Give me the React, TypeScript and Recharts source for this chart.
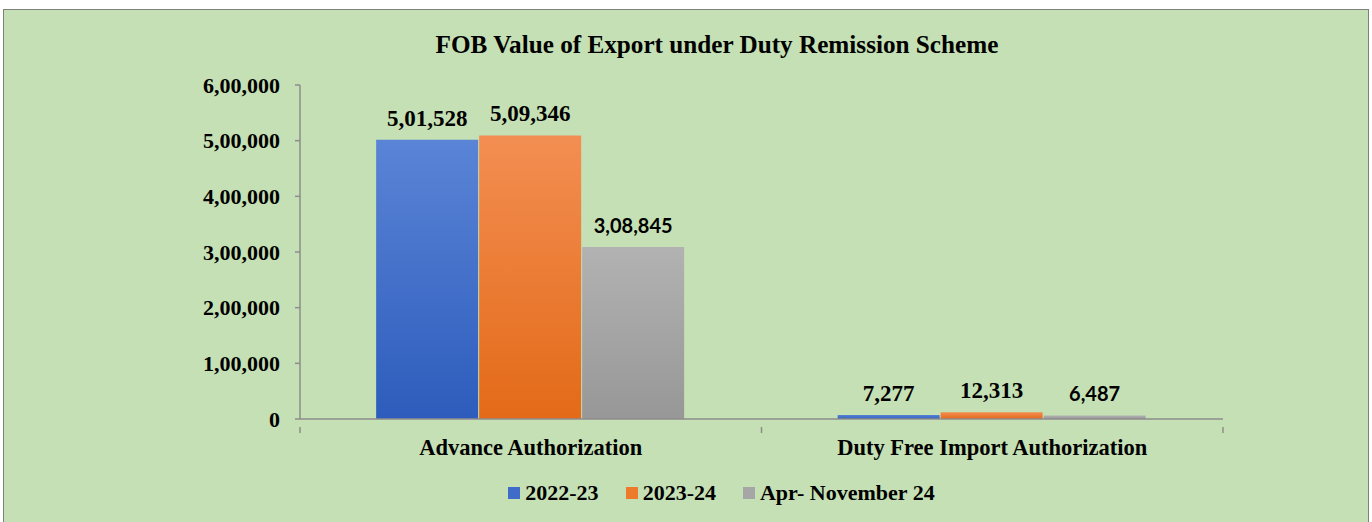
import React from 'react';
import { BarChart, Bar, XAxis, YAxis, LabelList, Legend } from 'recharts';

const categories = ['Advance Authorization', 'Duty Free Import Authorization'];
const series2022_23 = [501528, 7277];
const series2023_24 = [509346, 12313];
const seriesAprNov24 = [308845, 6487];
const seriesNames = ['2022-23', '2023-24', 'Apr- November 24'];
const yTicks = [0, 100000, 200000, 300000, 400000, 500000, 600000];

const data = categories.map((c, i) => ({
  category: c,
  a: series2022_23[i],
  b: series2023_24[i],
  c: seriesAprNov24[i],
}));

const SERIF = '"Liberation Serif", "Times New Roman", serif';
const SANS = 'Lato, "Open Sans", sans-serif';

function inr(v: any): string {
  const s = String(Math.round(Number(v)));
  if (s.length <= 3) return s;
  const last3 = s.slice(-3);
  let rest = s.slice(0, -3);
  const parts: string[] = [];
  while (rest.length > 2) {
    parts.unshift(rest.slice(-2));
    rest = rest.slice(0, -2);
  }
  if (rest) parts.unshift(rest);
  return parts.join(',') + ',' + last3;
}

const CatTick = (props: any) => {
  const { x, y, payload, index, visibleTicksCount } = props;
  const half = payload && payload.offset ? payload.offset : 0;
  const isLast = index === (visibleTicksCount || 2) - 1;
  return (
    <g>
      <line x1={x - half} x2={x - half} y1={y} y2={y + 6} stroke="#8c8c8c" strokeWidth={1.5} />
      {isLast && <line x1={x + half} x2={x + half} y1={y} y2={y + 6} stroke="#8c8c8c" strokeWidth={1.5} />}
      <text x={x} y={y + 28} textAnchor="middle" fontFamily={SERIF} fontWeight="bold" fontSize={22.5} fill="#000">
        {payload.value}
      </text>
    </g>
  );
};

const colors = ['#3f6cc9', '#ee7a2c', '#a6a6a6'];

const LegendContent = () => (
  <div style={{ height: 30, display: 'flex', alignItems: 'center', justifyContent: 'center', paddingLeft: 40, fontFamily: SERIF, fontWeight: 'bold', fontSize: 22, color: '#000' }}>
    {seriesNames.map((n, i) => (
      <div key={n} style={{ display: 'flex', alignItems: 'center', marginRight: i < 2 ? 27 : 0 }}>
        <div style={{ width: 12, height: 12, background: colors[i], marginRight: 5 }} />
        <span>{n}</span>
      </div>
    ))}
  </div>
);

export default function App() {
  return (
    <div style={{ position: 'absolute', left: 0, top: 0, width: 1372, height: 522, background: '#fff', overflow: 'hidden' }}>
      <div style={{ position: 'absolute', left: 3, top: 9, width: 1364, height: 530, background: '#c5e0b4', border: '1.5px solid #7f7f7f' }} />
      <div style={{ position: 'absolute', left: 317, top: 32, width: 800, textAlign: 'center', fontFamily: SERIF, fontWeight: 'bold', fontSize: 25.2, lineHeight: 1, color: '#000' }}>
        FOB Value of Export under Duty Remission Scheme
      </div>
      <div style={{ position: 'absolute', left: 0, top: 0 }}>
        <BarChart
          width={1372}
          height={522}
          data={data}
          margin={{ top: 85, right: 149, left: 180, bottom: 14 }}
          barCategoryGap="16.5%"
          barGap={1}
        >
          <defs>
            <linearGradient id="gBlue" x1="0" y1="0" x2="0" y2="1">
              <stop offset="0%" stopColor="#5a84d6" />
              <stop offset="100%" stopColor="#2d5cbc" />
            </linearGradient>
            <linearGradient id="gOrange" x1="0" y1="0" x2="0" y2="1">
              <stop offset="0%" stopColor="#f38e52" />
              <stop offset="100%" stopColor="#e36a18" />
            </linearGradient>
            <linearGradient id="gGray" x1="0" y1="0" x2="0" y2="1">
              <stop offset="0%" stopColor="#b2b2b2" />
              <stop offset="100%" stopColor="#979797" />
            </linearGradient>
          </defs>
          <XAxis
            dataKey="category"
            height={59}
            axisLine={{ stroke: '#8c8c8c', strokeWidth: 1.5 }}
            tickLine={false}
            tick={<CatTick />}
            interval={0}
          />
          <YAxis
            width={120}
            domain={[0, 600000]}
            ticks={yTicks}
            tickFormatter={inr}
            axisLine={{ stroke: '#8c8c8c', strokeWidth: 1.5 }}
            tickLine={{ stroke: '#8c8c8c', strokeWidth: 1.5 }}
            tickSize={5}
            tickMargin={15}
            tick={{ fontFamily: SERIF, fontWeight: 'bold', fontSize: 22, fill: '#000' }}
          />
          <Legend verticalAlign="bottom" content={<LegendContent />} />
          <Bar dataKey="a" name={seriesNames[0]} fill="url(#gBlue)" isAnimationActive={false}>
            <LabelList dataKey="a" position="top" offset={14} formatter={inr} fontFamily={SERIF} fontWeight="bold" fontSize={23} fill="#000" />
          </Bar>
          <Bar dataKey="b" name={seriesNames[1]} fill="url(#gOrange)" isAnimationActive={false}>
            <LabelList dataKey="b" position="top" offset={14} formatter={inr} fontFamily={SERIF} fontWeight="bold" fontSize={23} fill="#000" />
          </Bar>
          <Bar dataKey="c" name={seriesNames[2]} fill="url(#gGray)" isAnimationActive={false}>
            <LabelList dataKey="c" position="top" offset={14} formatter={inr} fontFamily={SANS} fontWeight="bold" fontSize={20} fill="#000" />
          </Bar>
        </BarChart>
      </div>
    </div>
  );
}
